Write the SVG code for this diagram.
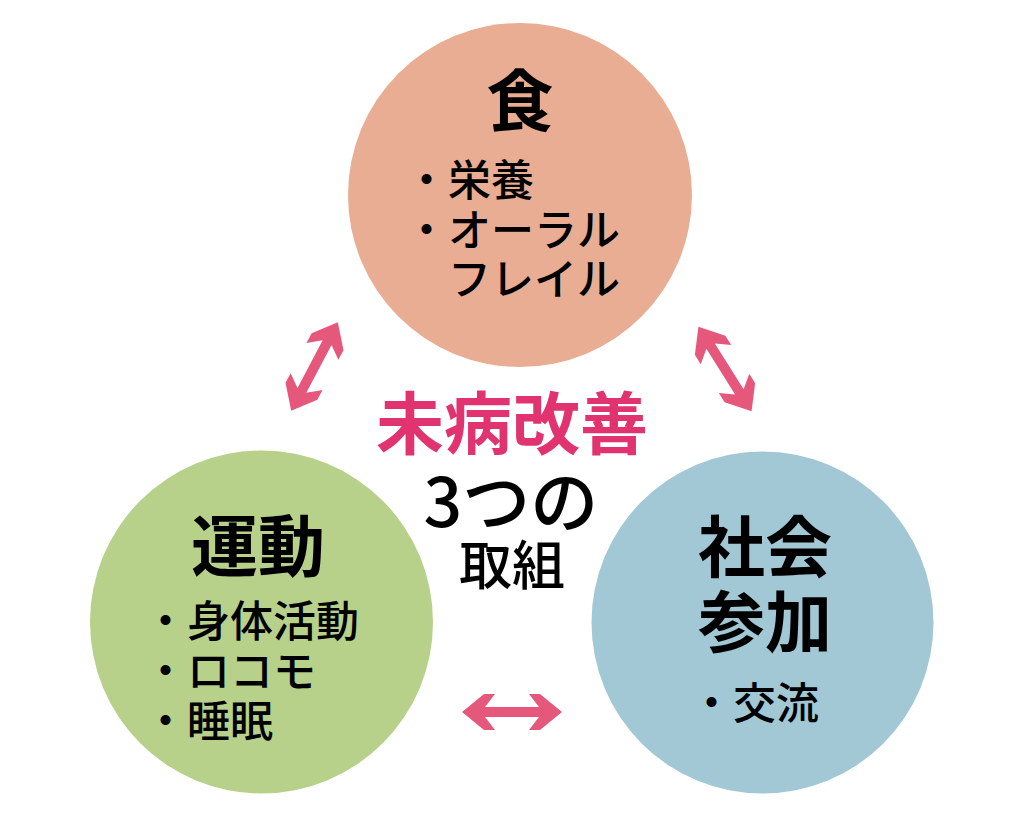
<svg xmlns="http://www.w3.org/2000/svg" width="1024" height="817" viewBox="0 0 1024 817">
<defs>
<style>
text{font-family:"Noto Sans CJK JP","Noto Sans CJK SC",sans-serif;fill:#000}
.h{font-size:67px;font-weight:700;text-anchor:middle}
.b{font-size:43px;font-weight:500}
.t{font-size:68px;font-weight:700;text-anchor:middle;fill:#E0336F}
.arr{fill:#E5587C}
</style>
<polygon id="dbl" points="-50,0 -28,-18 -17,-18 -27,-5 27,-5 17,-18 28,-18 50,0 28,18 17,18 27,5 -27,5 -17,18 -28,18"/>
</defs>
<rect width="1024" height="817" fill="#fff"/>
<g id="connectors" class="arr">
<use href="#dbl" transform="translate(314.5,366.5) rotate(-62.2)"/>
<use href="#dbl" transform="translate(725,369) rotate(57.9)"/>
<use href="#dbl" transform="translate(512,712)"/>
</g>
<g id="node-food">
<circle cx="520" cy="195" r="172" fill="#E9AD93"/>
<text class="h" x="520" y="126">食</text>
<text class="b" x="405" y="196">・栄養</text>
<text class="b" x="405" y="246">・オーラル</text>
<text class="b" x="448" y="295">フレイル</text>
</g>
<g id="node-exercise">
<circle cx="261.5" cy="622" r="171.5" fill="#B7D18B"/>
<text class="h" x="258" y="571">運動</text>
<text class="b" x="144" y="637">・身体活動</text>
<text class="b" x="144" y="687">・ロコモ</text>
<text class="b" x="144" y="737">・睡眠</text>
</g>
<g id="node-social">
<circle cx="762.5" cy="622.5" r="171" fill="#A2C8D5"/>
<text class="h" x="765" y="572">社会</text>
<text class="h" x="765" y="647">参加</text>
<text class="b" x="690" y="719">・交流</text>
</g>
<g id="center">
<text class="t" x="512" y="449">未病改善</text>
<text x="511" y="527" style="font-size:68px;font-weight:500;text-anchor:middle">3つの</text>
<text x="512" y="585" style="font-size:53px;font-weight:500;text-anchor:middle">取組</text>
</g>
</svg>
